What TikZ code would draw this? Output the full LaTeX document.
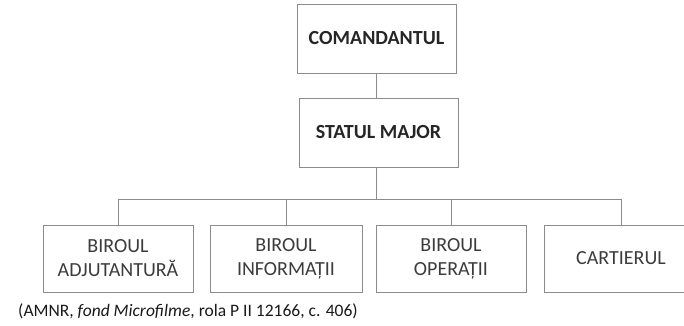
\documentclass[tikz,border=0pt]{standalone}
\usepackage{fontspec}
\setmainfont{Carlito}
\usepackage{tikz}
\usetikzlibrary{calc}
\definecolor{linegray}{HTML}{8C8C8C}
\definecolor{textgray}{HTML}{3C3C3C}

\begin{document}
\begin{tikzpicture}[x=1pt,y=1pt,
unit/.style = {draw=linegray, line width=1pt, fill=white, align=center,
  text=textgray, font=\fontsize{20}{24}\selectfont,
  minimum height=67pt, inner sep=0pt},
head/.style = {unit, minimum width=159pt, minimum height=69pt, text=black!85,
  font=\fontsize{20}{24}\selectfont\bfseries},
link/.style = {draw=linegray, line width=1pt}
]

\useasboundingbox (0,0) rectangle (684,325);
\clip (0,0) rectangle (684,325);

% top of the chart
\node [head] (cmd) at (376.5,286.5) {COMANDANTUL};
\node [head] (stat) at (378.5,192.5) {STATUL MAJOR};

% the offices
\node [unit, minimum width=150pt] (adj) at (118,66.5) {BIROUL\\ADJUTANTURĂ};
\node [unit, minimum width=152pt] (inf) at (286,66.5) {BIROUL\\INFORMAȚII};
\node [unit, minimum width=150pt] (ops) at (451,66.5) {BIROUL\\OPERAȚII};
\node [unit, minimum width=154pt] (cart) at (621,66.5) {CARTIERUL};

\coordinate (bus) at (0,126);
\draw [link] (cmd.south) -- (cmd.south |- stat.north);
\draw [link] ($ (stat.south) + (-2,0) $) -- ($ (stat.south |- bus) + (-2,0) $);
\draw [link] (adj.north) |- (cart.north |- bus) -- (cart.north);
\draw [link] (inf.north) -- (inf.north |- bus);
\draw [link] (ops.north) -- (ops.north |- bus);

\node [anchor=base west, inner sep=0pt, text=black!90,
  font=\fontsize{17.5}{21}\selectfont] (src) at (18,9)
  {(AMNR, \textit{fond Microfilme}, rola P II 12166, c. 406)};

\end{tikzpicture}
\end{document}
